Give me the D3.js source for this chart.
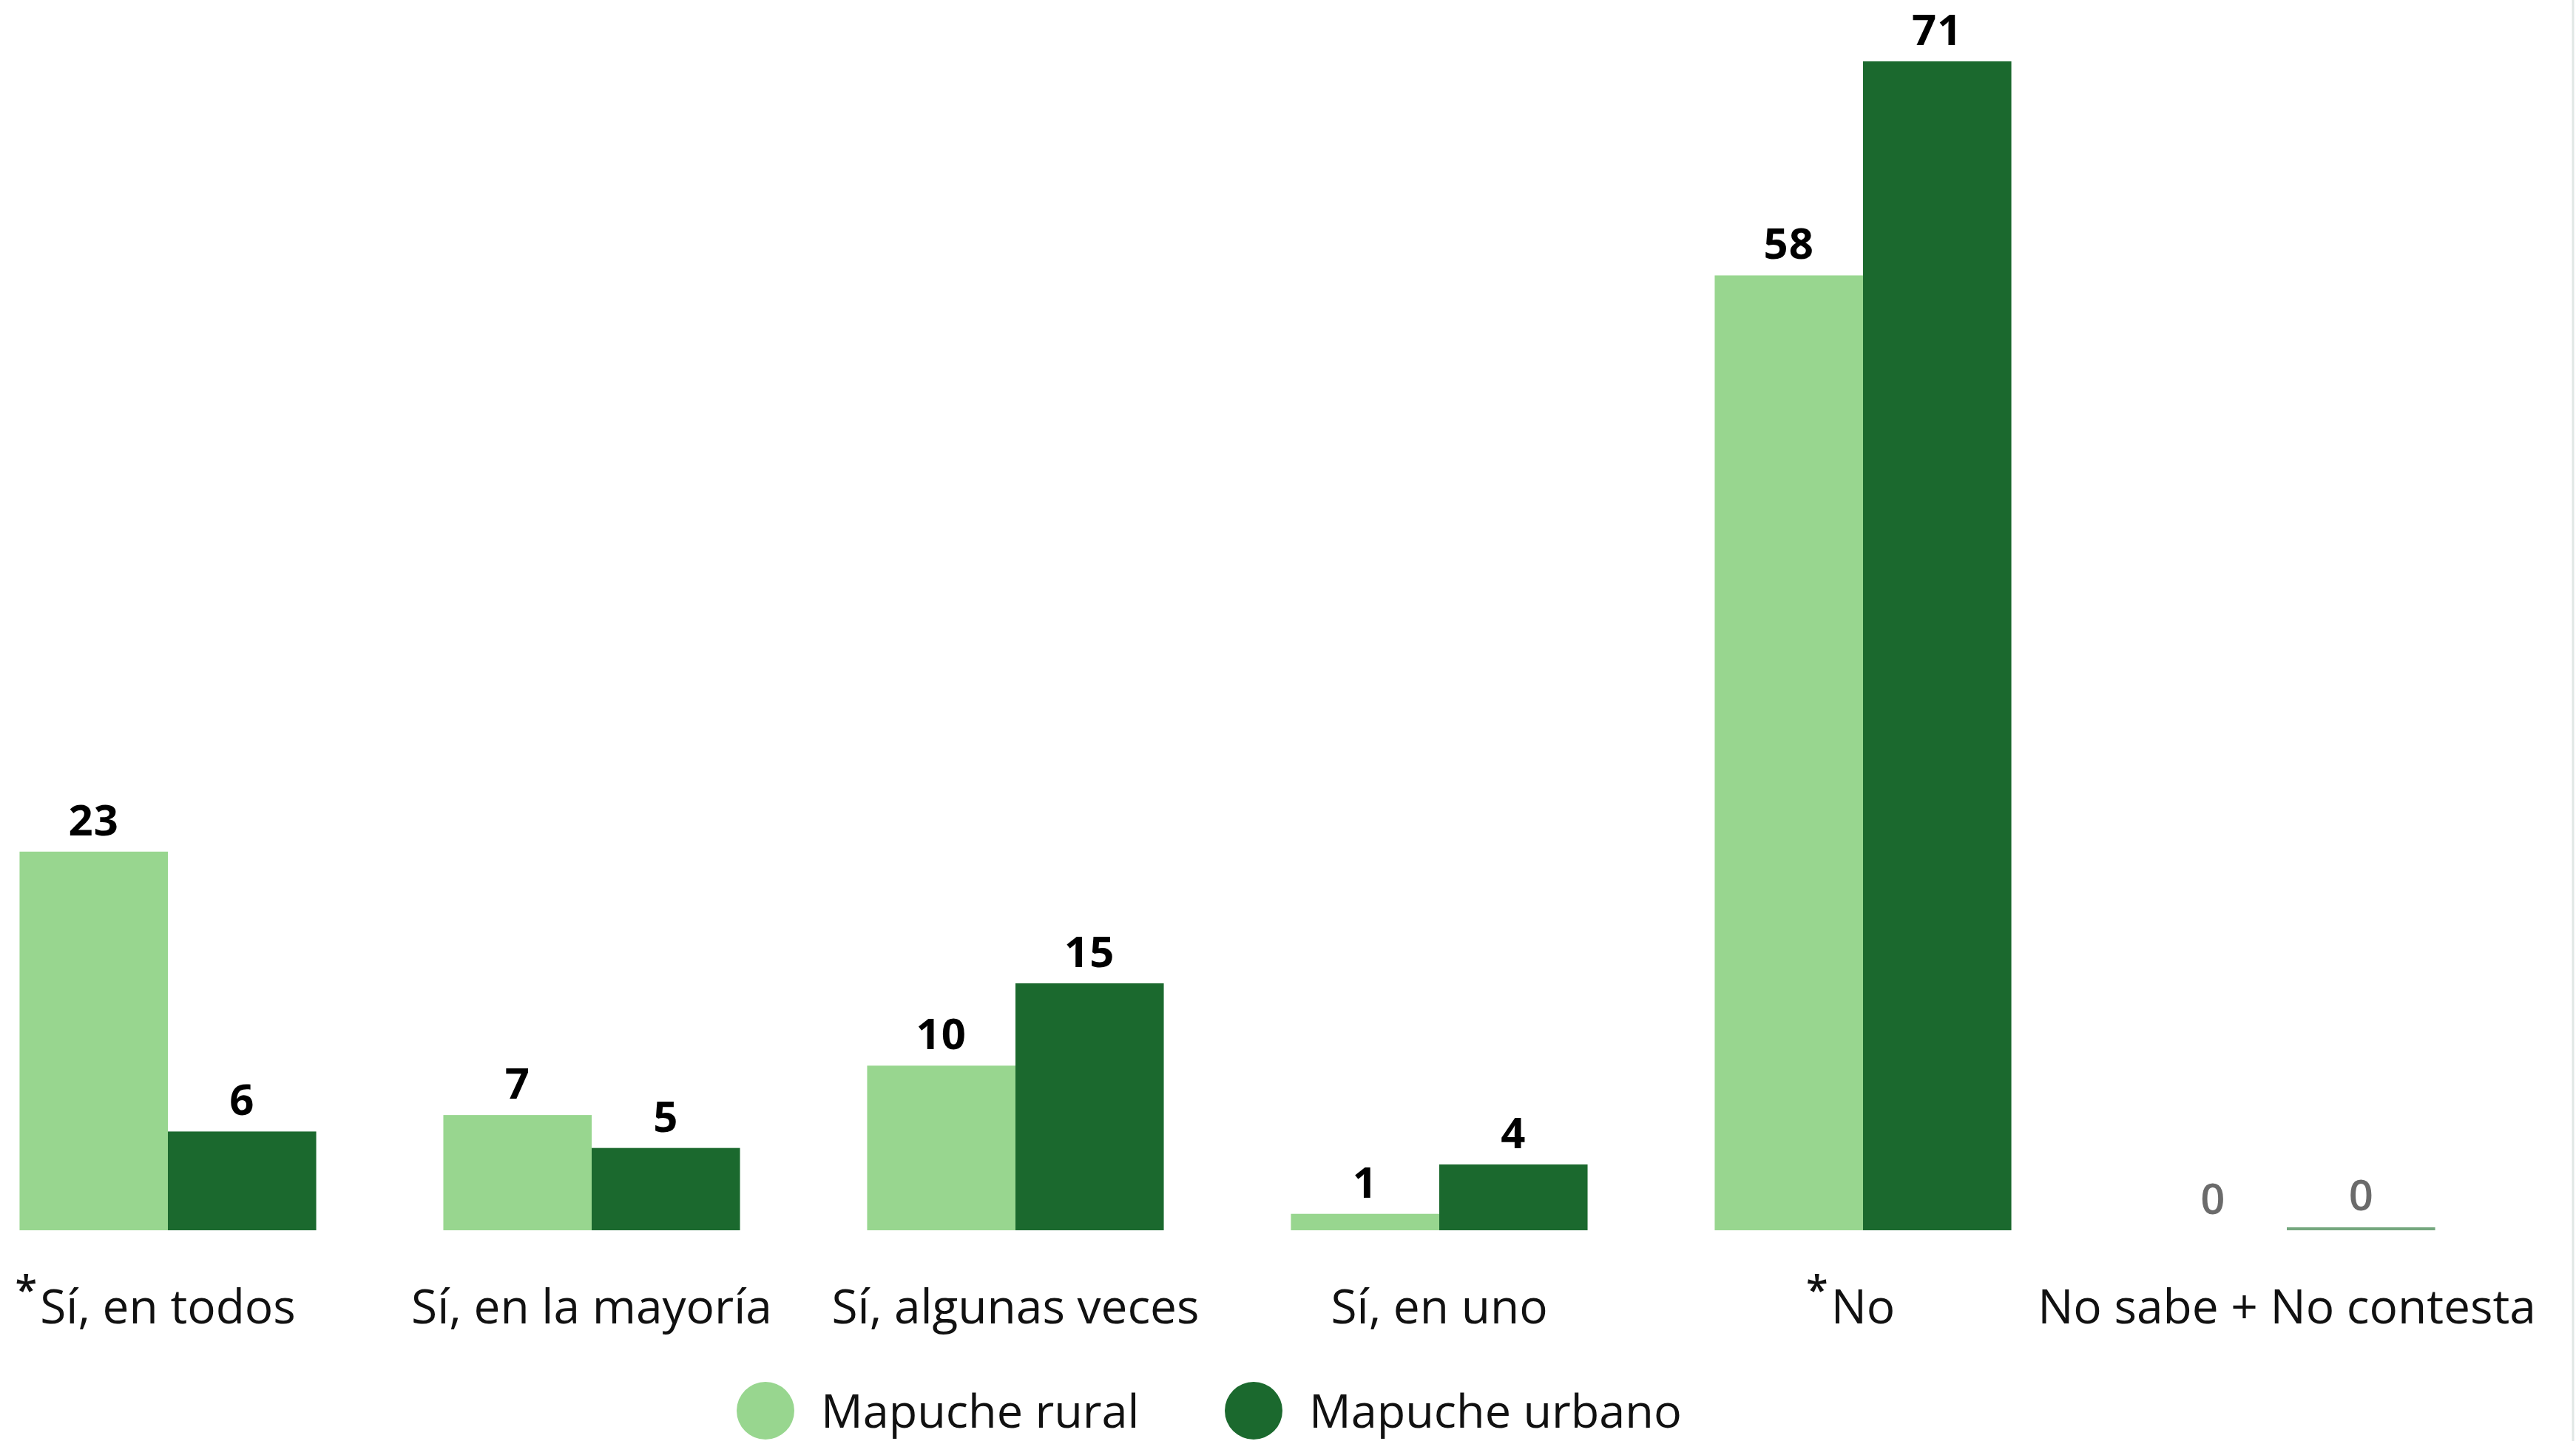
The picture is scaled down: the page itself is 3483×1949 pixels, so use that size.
<!DOCTYPE html>
<html>
<head>
<meta charset="utf-8">
<script src="https://cdn.jsdelivr.net/npm/d3@7"></script>
<style>
  html, body { margin: 0; padding: 0; background: #fff; }
  svg { display: block; }
</style>
</head>
<body>
<svg id="chart"></svg>
<script>
const categories = [
  "Sí, en todos",
  "Sí, en la mayoría",
  "Sí, algunas veces",
  "Sí, en uno",
  "No",
  "No sabe + No contesta",
];
const starred = ["Sí, en todos", "No"];
const seriesNames = ["Mapuche rural", "Mapuche urbano"];
const ruralValues = [23, 7, 10, 1, 58, 0];
const urbanoValues = [6, 5, 15, 4, 71, 0];

const colors = ["#98d68f", "#1b692e"];
const zeroColors = [null, "#74a77e"];

const width = 3483;
const height = 1949;
const baseline = 1664;

const svg = d3.select("#chart").attr("width", width).attr("height", height);

const dataset = categories.map((c, i) => ({
  category: c,
  values: [ruralValues[i], urbanoValues[i]],
}));

const step = 573;
const firstCenter = 227;
const xScale = d3
  .scaleBand()
  .domain(categories)
  .range([firstCenter - step / 2, firstCenter + step * (categories.length - 0.5)])
  .paddingInner(0.3)
  .paddingOuter(0.15);

const xSub = d3
  .scaleBand()
  .domain([0, 1])
  .range([0, xScale.bandwidth()]);

const yScale = d3.scaleLinear().domain([0, 71]).range([baseline, 83]);

// bars
const groups = svg
  .selectAll("g.group")
  .data(dataset)
  .enter()
  .append("g")
  .attr("class", "group")
  .attr("transform", (d) => `translate(${xScale(d.category)}, 0)`);

const cells = groups
  .selectAll("g.cell")
  .data((d) => d.values.map((v, s) => ({ v, s })))
  .enter()
  .append("g")
  .attr("class", "cell");

cells
  .filter((d) => d.v > 0 || zeroColors[d.s])
  .append("rect")
  .attr("x", (d) => xSub(d.s))
  .attr("width", xSub.bandwidth())
  .attr("y", (d) => (d.v > 0 ? yScale(d.v) : baseline - 4))
  .attr("height", (d) => (d.v > 0 ? baseline - yScale(d.v) : 4))
  .attr("fill", (d) => (d.v > 0 ? colors[d.s] : zeroColors[d.s]));

cells
  .append("text")
  .attr("x", (d) => xSub(d.s) + xSub.bandwidth() / 2)
  .attr("y", (d) => {
    if (d.v > 0) return yScale(d.v) - 22;
    return d.s === 1 ? baseline - 27 : baseline - 22;
  })
  .attr("text-anchor", "middle")
  .attr("font-family", "'Open Sans', 'Noto Sans', sans-serif")
  .attr("font-weight", (d) => (d.v > 0 ? 700 : 600))
  .attr("font-size", 58)
  .attr("letter-spacing", (d) => (d.v > 0 ? 1 : 0))
  .attr("fill", (d) => (d.v > 0 ? "#000" : "#6b6b6b"))
  .text((d) => d.v);

// category labels
const labels = svg
  .selectAll("g.label")
  .data(categories)
  .enter()
  .append("g")
  .attr("class", "label");

labels
  .append("text")
  .attr("class", "cat")
  .attr("x", (d) => xScale(d) + xScale.bandwidth() / 2)
  .attr("y", 1790)
  .attr("text-anchor", "middle")
  .attr("font-family", "'Open Sans', 'Noto Sans', sans-serif")
  .attr("font-size", 64)
  .attr("fill", "#111")
  .text((d) => d);

labels
  .filter((d) => starred.includes(d))
  .each(function (d) {
    const g = d3.select(this);
    const w = g.select("text.cat").node().getComputedTextLength();
    g.append("text")
      .attr("x", xScale(d) + xScale.bandwidth() / 2 - w / 2 - 4)
      .attr("y", 1764)
      .attr("text-anchor", "end")
      .attr("font-family", "'Open Sans', 'Noto Sans', sans-serif")
      .attr("font-size", 54)
      .attr("font-weight", 600)
      .attr("fill", "#111")
      .text("*");
  });

// legend
const legendX = [1035, 1695];
const legend = svg
  .selectAll("g.legend")
  .data(seriesNames)
  .enter()
  .append("g")
  .attr("class", "legend")
  .attr("transform", (d, i) => `translate(${legendX[i]}, 1908)`);

legend.append("circle").attr("r", 39).attr("fill", (d, i) => colors[i]);

legend
  .append("text")
  .attr("x", 75)
  .attr("y", 23)
  .attr("font-family", "'Open Sans', 'Noto Sans', sans-serif")
  .attr("font-size", 63)
  .attr("fill", "#111")
  .text((d) => d);

// right border line
svg
  .append("line")
  .attr("x1", 3479)
  .attr("x2", 3479)
  .attr("y1", 0)
  .attr("y2", height)
  .attr("stroke", "#e1e7e5")
  .attr("stroke-width", 3);
</script>
</body>
</html>
